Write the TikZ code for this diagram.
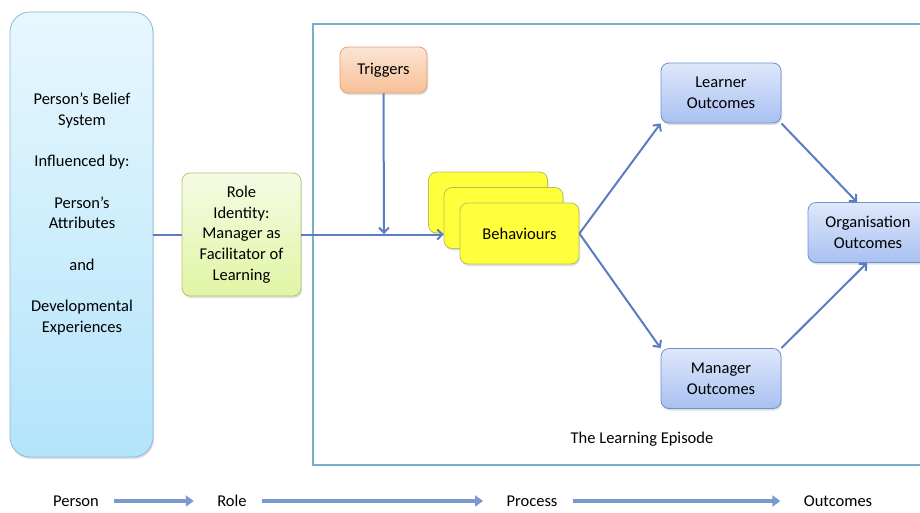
\documentclass[tikz,border=0pt]{standalone}
\usepackage{fontspec}
\setmainfont{Carlito}
\usetikzlibrary{arrows.meta,shadows}

\definecolor{linkblue}{HTML}{5B7CC2}
\definecolor{frameblue}{HTML}{7AADC9}
\definecolor{flowblue}{HTML}{7C98D0}
\definecolor{beliefTop}{HTML}{E8F7FE}
\definecolor{beliefBot}{HTML}{B3E4FA}
\definecolor{beliefLine}{HTML}{8DB8D6}
\definecolor{roleTop}{HTML}{F5FBE4}
\definecolor{roleBot}{HTML}{E1F5A4}
\definecolor{roleLine}{HTML}{B4C86E}
\definecolor{trigTop}{HTML}{FBE4D4}
\definecolor{trigBot}{HTML}{F6C096}
\definecolor{trigLine}{HTML}{E4A270}
\definecolor{behavFill}{HTML}{FFFF3C}
\definecolor{behavLine}{HTML}{B6C05C}
\definecolor{outTop}{HTML}{DFE8FB}
\definecolor{outBot}{HTML}{A8C0F1}
\definecolor{outLine}{HTML}{6F90CF}

\tikzset{
  txt/.style={font=\fontsize{16.5}{20.7}\selectfont, align=center, text=black},
  box/.style={txt, rounded corners=8pt, inner sep=0pt, line width=0.8pt,
    drop shadow={shadow xshift=1pt, shadow yshift=-2pt, opacity=0.25}},
  beliefbox/.style={box, rounded corners=20pt, draw=beliefLine, top color=beliefTop,
    bottom color=beliefBot, minimum width=143pt, minimum height=445pt},
  rolebox/.style={box, draw=roleLine, top color=roleTop, bottom color=roleBot,
    minimum width=119pt, minimum height=123pt},
  triggerbox/.style={box, draw=trigLine, top color=trigTop, bottom color=trigBot,
    minimum width=87pt, minimum height=46pt},
  behaviourbox/.style={box, draw=behavLine, fill=behavFill,
    minimum width=119pt, minimum height=61pt},
  outcomebox/.style={box, draw=outLine, top color=outTop, bottom color=outBot,
    minimum width=120pt, minimum height=60pt},
  link/.style={draw=linkblue, line width=2pt, -{Straight Barb[length=5pt,width=10pt]}},
  flow/.style={draw=flowblue, line width=3.5pt, -{Triangle[length=8pt,width=11pt]},
    shorten <=12pt, shorten >=20pt}
}

\begin{document}
\begin{tikzpicture}[x=1pt,y=-1pt]
  \useasboundingbox (0,0) rectangle (920,512);

  % the learning episode frame
  \draw [frameblue, line width=2pt] (313,24) rectangle (935,465);
  \node [txt] (episode) at (642,439) {The Learning Episode};

  % person
  \node [beliefbox] (belief) at (81.5,234.5) {};
  \node [txt] (belieftext) at (82,214) {Person’s Belief\\System\\[20.7pt]Influenced by:\\[20.7pt]Person’s\\Attributes\\[20.7pt]and\\[20.7pt]Developmental\\Experiences};

  % role
  \node [rolebox] (role) at (241.5,234.5) {Role\\Identity:\\Manager as\\Facilitator of\\Learning};

  % triggers and behaviours
  \node [triggerbox] (triggers) at (383.5,70) {Triggers};
  \node [behaviourbox] (behaviour1) at (488,202.5) {};
  \node [behaviourbox] (behaviour2) at (503.5,218) {};
  \node [behaviourbox] (behaviour3) at (519.5,233.5) {Behaviours};

  % outcomes
  \node [outcomebox] (learner) at (721,93) {Learner\\Outcomes};
  \node [outcomebox] (manager) at (721,378.5) {Manager\\Outcomes};
  \node [outcomebox] (organisation) at (868,232.5) {Organisation\\Outcomes};

  \coordinate (join) at (384,234);
  \draw [draw=linkblue, line width=2pt] (belief.east |- role.west) -- (role.west);
  \draw [link] (role.east) -- (behaviour2.west |- role.east);
  \draw [link] (triggers.south) -- (join);
  \draw [link] (behaviour3.east) -- (learner.south west);
  \draw [link] (behaviour3.east) -- (manager.north west);
  \draw [link] (learner.south east) -- ([xshift=-11pt]organisation.north);
  \draw [link] (manager.north east) -- ([xshift=-1pt]organisation.south);

  % bottom flow
  \node [txt] (person) at (76,501) {Person};
  \node [txt] (roletag) at (232,501) {Role};
  \node [txt] (process) at (532,501) {Process};
  \node [txt] (outcomes) at (838,501) {Outcomes};
  \draw [flow] (person) -- (roletag);
  \draw [flow] (roletag) -- (process);
  \draw [flow] (process) -- (outcomes);
\end{tikzpicture}
\end{document}
